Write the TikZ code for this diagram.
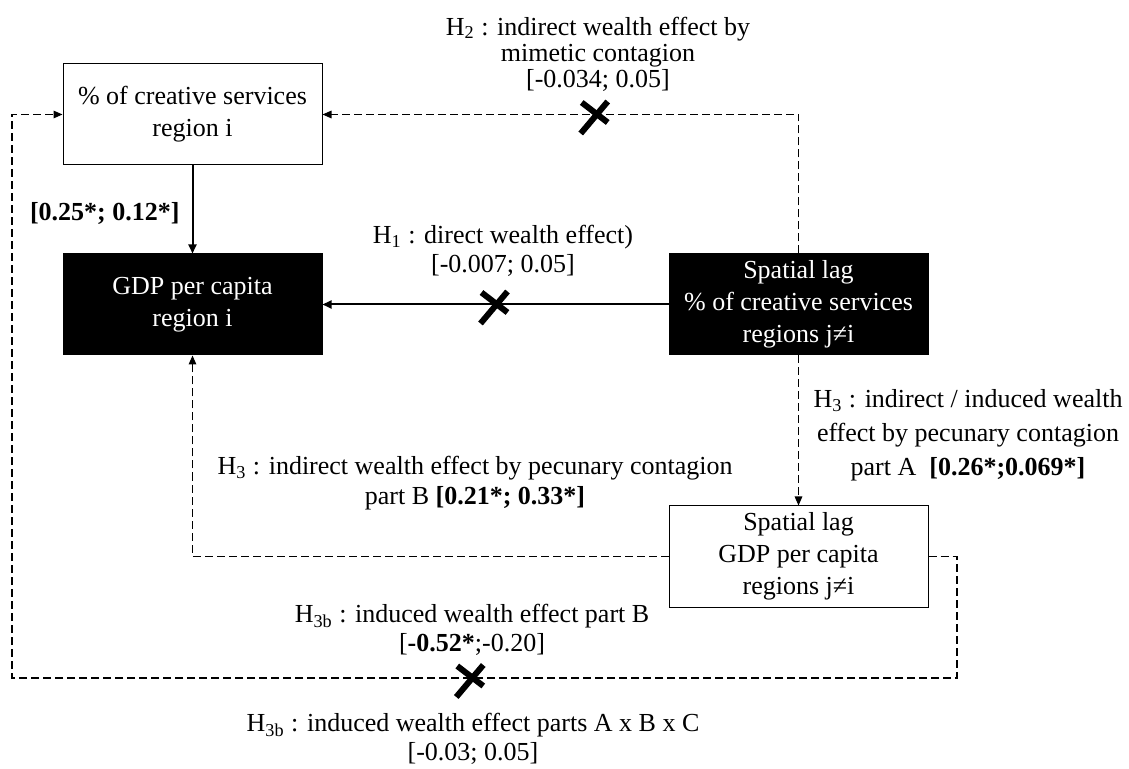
\documentclass[tikz,border=0pt]{standalone}
\usepackage{fontspec}
\setmainfont{Liberation Serif}
\usetikzlibrary{arrows.meta, positioning}

\tikzset{
  whitebox/.style={draw, line width=0.5pt, fill=white, minimum width=129.5pt, minimum height=50.5pt,
    inner sep=1pt, align=center, font=\fontsize{13}{16}\selectfont},
  blackbox/.style={whitebox, fill=black, text=white},
  solidarrow/.style={line width=1pt, -{Triangle[length=4.5pt,width=4pt]}},
  dasharrow/.style={line width=0.55pt, dash pattern=on 4pt off 2pt, -{Triangle[length=4.5pt,width=3.8pt]}},
  hyplabel/.style={align=center, inner sep=0pt, font=\fontsize{13}{14.5}\selectfont},
  crossmark/.pic={
    \draw[line width=3pt, solid, -] (-15,19) -- (12,-13);
    \draw[line width=3pt, solid, -] (-14,-12) -- (12,8);
  }
}

\begin{document}
\begin{tikzpicture}[x=0.5pt, y=-0.5pt]
    \useasboundingbox (0,0) rectangle (1129,769);
    % boxes
    \node[whitebox] (crei) at (192.5,114.5) {\% of creative services\\region i};
    \node[blackbox, below=44pt of crei] (gdpi) {GDP per capita\\region i};
    \node[blackbox, right=173pt of gdpi] (lagcre) {Spatial lag\\\% of creative services\\regions j≠i};
    \node[whitebox, below=75pt of lagcre] (laggdp) {Spatial lag\\GDP per capita\\regions j≠i};
    \coordinate (se) at (957,678);
    \coordinate (sw) at (12,678);

    % links
    \draw[solidarrow] (crei) -- (gdpi)
        node[midway, left=6pt, yshift=-2pt, hyplabel] {\textbf{[0.25*; 0.12*]}};
    \draw[solidarrow] (lagcre) -- (gdpi) pic[midway]{crossmark};
    \draw[dasharrow] (lagcre.north) |- (crei.east) pic[pos=0.713]{crossmark};
    \draw[dasharrow] (lagcre) -- (laggdp);
    \draw[dasharrow] (laggdp.west) -| (gdpi.south);
    \draw[dasharrow] (laggdp.east) -| (se) -- (sw) |- (crei.west);
    \path (se) -- (sw) pic[pos=0.514]{crossmark};

    % hypotheses
    \node[hyplabel, font=\fontsize{13}{13}\selectfont] (h2) at (598,54)
        {H\textsubscript{2} : indirect wealth effect by\\mimetic contagion\\{}[-0.034; 0.05]};
    \node[hyplabel] (h1) at (503,251) {H\textsubscript{1} : direct wealth effect)\\{}[-0.007; 0.05]};
    \node[hyplabel, font=\fontsize{13}{17}\selectfont] (h3a) at (968,435)
        {H\textsubscript{3} : indirect / induced wealth\\effect by pecunary contagion\\part A~~\textbf{[0.26*;0.069*]}};
    \node[hyplabel, font=\fontsize{13}{15}\selectfont] (h3b) at (475,483)
        {H\textsubscript{3} : indirect wealth effect by pecunary contagion\\part B \textbf{[0.21*; 0.33*]}};
    \node[hyplabel, font=\fontsize{13}{14.5}\selectfont] (h3bb) at (472,630)
        {H\textsubscript{3b} : induced wealth effect part B\\{}[\textbf{-0.52*};-0.20]};
    \node[hyplabel] (h3babc) at (473,739)
        {H\textsubscript{3b} : induced wealth effect parts A x B x C\\{}[-0.03; 0.05]};
\end{tikzpicture}
\end{document}
